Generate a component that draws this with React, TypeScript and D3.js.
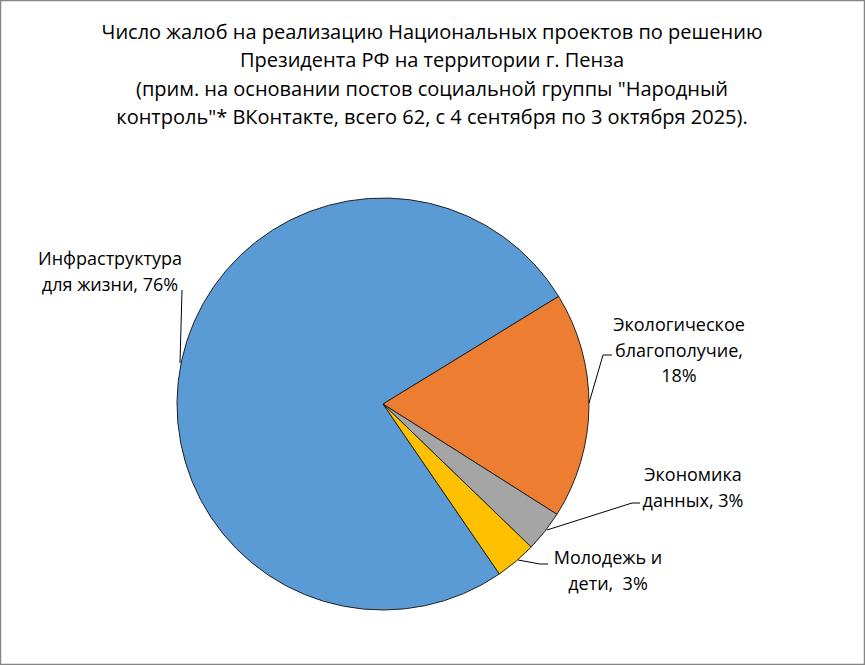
import * as d3 from "d3";

const categories = [
  "Инфраструктура для жизни",
  "Экологическое благополучие",
  "Экономика данных",
  "Молодежь и дети",
];
const counts = [47, 11, 2, 2];
const colors = ["#5B9BD5", "#ED7D31", "#A5A5A5", "#FFC000"];
const labelLines = [
  ["Инфраструктура", "для жизни, 76%"],
  ["Экологическое", "благополучие,", "18%"],
  ["Экономика", "данных, 3%"],
  ["Молодежь и", "дети,  3%"],
];
const titleLines = [
  "Число жалоб на реализацию Национальных проектов по решению",
  "Президента РФ на территории г. Пенза",
  "(прим. на основании постов социальной группы \"Народный",
  "контроль\"* ВКонтакте, всего 62, с 4 сентября по 3 октября 2025).",
];

const W = 865;
const H = 665;
const FONT = "'Open Sans', sans-serif";

// label placement: text centre, first baseline, leader path
const labelPos = [
  { x: 110, y: 265, leader: [[182, 290], [180, 363]] },
  { x: 679, y: 331, leader: [[612, 355], [603, 355], [589, 403]] },
  { x: 693, y: 481, leader: [[640, 503], [632, 503], [547, 530]] },
  { x: 608, y: 564, leader: [[548, 564], [540, 564], [518, 560]] },
];

export default function App() {
  const cx = 383;
  const cy = 404;
  const radius = 206;
  const start = (145.6 * Math.PI) / 180;

  const pie = d3
    .pie<number>()
    .value((d) => d)
    .sort(null)
    .startAngle(start)
    .endAngle(start + 2 * Math.PI);

  const arc = d3.arc<d3.PieArcDatum<number>>().innerRadius(0).outerRadius(radius);
  const arcs = pie(counts);
  const line = d3.line();

  return (
    <div style={{ position: "absolute", left: 0, top: 0 }}>
      <svg width={W} height={H} style={{ display: "block" }}>
        <rect x={0.5} y={0.5} width={W - 1} height={H - 1} fill="#fff" stroke="#868686" strokeWidth={1.5} />
        {titleLines.map((t, i) => (
          <text
            key={i}
            x={432}
            y={38.5 + i * 28.5}
            textAnchor="middle"
            fontFamily={FONT}
            fontSize={20}
            fill="#000"
          >
            {t}
          </text>
        ))}
        <g transform={`translate(${cx},${cy})`}>
          {arcs.map((a, i) => (
            <path key={categories[i]} d={arc(a) as string} fill={colors[i]} stroke="#222" strokeWidth={1} />
          ))}
        </g>
        {labelPos.map((p, i) => (
          <g key={i}>
            <path
              d={line(p.leader as [number, number][]) as string}
              fill="none"
              stroke="#000"
              strokeWidth={1}
            />
            {labelLines[i].map((t, j) => (
              <text
                key={j}
                x={p.x}
                y={p.y + j * 25.5}
                textAnchor="middle"
                fontFamily={FONT}
                fontSize={18}
                fill="#000"
                style={{ whiteSpace: "pre" }}
              >
                {t}
              </text>
            ))}
          </g>
        ))}
      </svg>
    </div>
  );
}
